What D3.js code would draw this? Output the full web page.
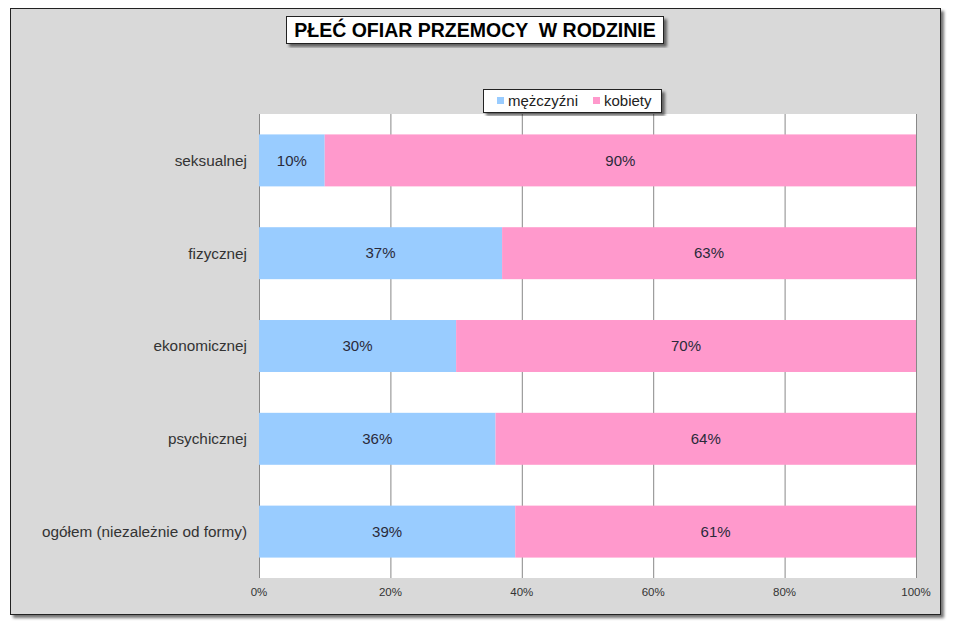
<!DOCTYPE html>
<html>
<head>
<meta charset="utf-8">
<script src="https://cdn.jsdelivr.net/npm/d3@7"></script>
<style>
  body { margin: 0; background: #fff; }
  svg { display: block; font-family: Arial, "Liberation Sans", sans-serif; }
</style>
</head>
<body>
<svg id="chart" width="955" height="625"></svg>
<script>
const categories = ['seksualnej', 'fizycznej', 'ekonomicznej', 'psychicznej', 'ogółem (niezależnie od formy)']
const men = [10, 37, 30, 36, 39]
const women = [90, 63, 70, 64, 61]
const seriesNames = ['mężczyźni', 'kobiety']
const ticks = [0, 20, 40, 60, 80, 100]

const colors = ['#99ccff', '#ff99cc']
const svg = d3.select('#chart')

const defs = svg.append('defs')
const shadow = defs.append('filter').attr('id', 'shadow')
  .attr('x', '-5%').attr('y', '-5%').attr('width', '115%').attr('height', '120%')
shadow.append('feDropShadow')
  .attr('dx', 3).attr('dy', 3).attr('stdDeviation', 1.5)
  .attr('flood-color', '#000').attr('flood-opacity', 0.55)

// outer chart area
svg.append('rect')
  .attr('x', 10.5).attr('y', 8.5).attr('width', 930).attr('height', 606)
  .attr('fill', '#d9d9d9').attr('stroke', '#222').attr('stroke-width', 1)
  .attr('filter', 'url(#shadow)')

const plot = { left: 259, right: 916, top: 114, bottom: 578 }

const x = d3.scaleLinear().domain([0, 100]).range([plot.left, plot.right])
const y = d3.scaleBand().domain(categories).range([plot.top, plot.bottom]).paddingInner(0.44).paddingOuter(0.22)

svg.append('rect')
  .attr('x', plot.left).attr('y', plot.top)
  .attr('width', plot.right - plot.left).attr('height', plot.bottom - plot.top)
  .attr('fill', '#fff')

// gridlines
svg.append('g')
  .selectAll('line')
  .data(ticks)
  .enter()
  .append('line')
  .attr('x1', d => x(d) + 0.5).attr('x2', d => x(d) + 0.5)
  .attr('y1', plot.top).attr('y2', plot.bottom)
  .attr('stroke', '#888').attr('stroke-width', 1)

const rows = categories.map((c, i) => ({ cat: c, vals: [men[i], women[i]] }))

rows.forEach(row => {
  let start = 0
  row.vals.forEach((v, j) => {
    svg.append('rect')
      .attr('x', x(start)).attr('y', y(row.cat))
      .attr('width', x(start + v) - x(start)).attr('height', y.bandwidth())
      .attr('fill', colors[j])
    svg.append('text')
      .attr('x', x(start + v / 2)).attr('y', y(row.cat) + y.bandwidth() / 2)
      .attr('dy', '.35em')
      .attr('text-anchor', 'middle')
      .attr('font-size', 15)
      .attr('fill', '#2a2a3a')
      .text(v + '%')
    start += v
  })
})

// category labels
svg.append('g')
  .selectAll('text')
  .data(categories)
  .enter()
  .append('text')
  .attr('x', plot.left - 12)
  .attr('y', d => y(d) + y.bandwidth() / 2)
  .attr('dy', '.35em')
  .attr('text-anchor', 'end')
  .attr('font-size', 15.3)
  .attr('fill', '#333')
  .text(d => d)

// x tick labels
svg.append('g')
  .selectAll('text')
  .data(ticks)
  .enter()
  .append('text')
  .attr('x', d => x(d))
  .attr('y', 596)
  .attr('text-anchor', 'middle')
  .attr('font-size', 11.5)
  .attr('fill', '#333')
  .text(d => d + '%')

// title
svg.append('rect')
  .attr('x', 286.5).attr('y', 16.5).attr('width', 377).attr('height', 27)
  .attr('fill', '#fff').attr('stroke', '#222')
  .attr('filter', 'url(#shadow)')
svg.append('text')
  .attr('x', 475).attr('y', 30)
  .attr('dy', '.36em')
  .attr('text-anchor', 'middle')
  .attr('font-size', 19.5)
  .attr('font-weight', 'bold')
  .attr('fill', '#000')
  .attr('xml:space', 'preserve')
  .text('PŁEĆ OFIAR PRZEMOCY  W RODZINIE')

// legend
svg.append('rect')
  .attr('x', 483.5).attr('y', 89.5).attr('width', 178).attr('height', 23)
  .attr('fill', '#fff').attr('stroke', '#222')
  .attr('filter', 'url(#shadow)')
const legendX = [497, 593]
seriesNames.forEach((name, i) => {
  svg.append('rect')
    .attr('x', legendX[i]).attr('y', 97)
    .attr('width', 7).attr('height', 7)
    .attr('fill', colors[i])
  svg.append('text')
    .attr('x', legendX[i] + 11).attr('y', 101)
    .attr('dy', '.35em')
    .attr('font-size', 15)
    .attr('fill', '#222')
    .text(name)
})
</script>
</body>
</html>
